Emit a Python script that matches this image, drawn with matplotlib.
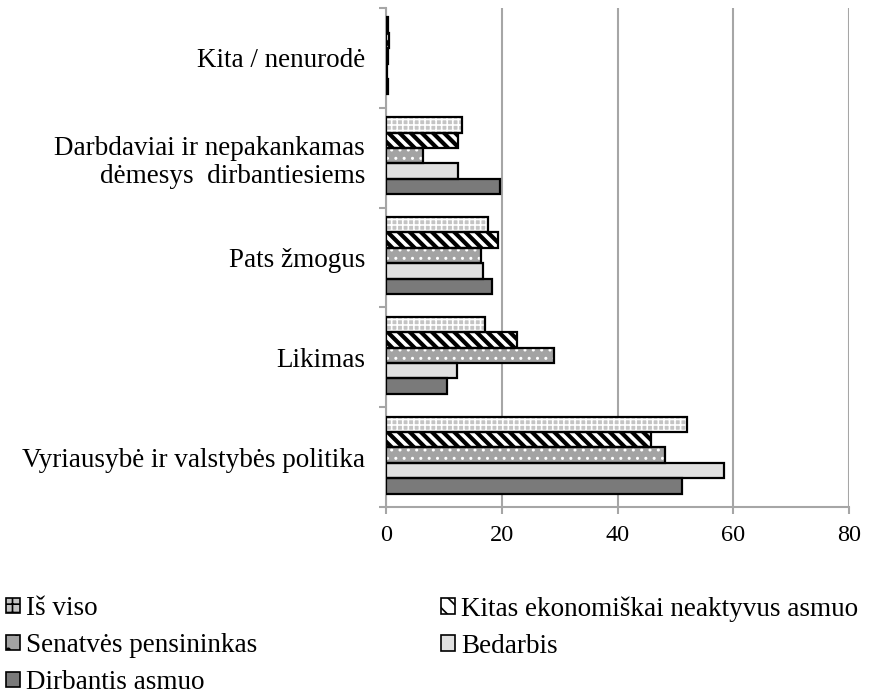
import matplotlib
matplotlib.use("Agg")
import matplotlib.pyplot as plt
import numpy as np
from matplotlib.patches import Patch

plt.rcParams['font.family'] = ['Liberation Serif', 'DejaVu Serif']

categories = ["Vyriausybė ir valstybės politika", "Likimas", "Pats žmogus",
              "Darbdaviai ir nepakankamas\ndėmesys  dirbantiesiems", "Kita / nenurodė"]
# series listed bottom-to-top within each group
dirbantis = [51.2, 10.5, 18.4, 19.7, 0.4]
bedarbis = [58.4, 12.3, 16.8, 12.5, 0.2]
senatves = [48.2, 29.0, 16.4, 6.4, 0.3]
kitas = [45.8, 22.6, 19.4, 12.5, 0.5]
is_viso = [52.0, 17.1, 17.7, 13.2, 0.3]
xticks = [0, 20, 40, 60, 80]

series = [
    ("Dirbantis asmuo", dirbantis, dict(fc='#7a7a7a', hatch=None, hc=None, hlw=1.0)),
    ("Bedarbis", bedarbis, dict(fc='#e0e0e0', hatch=None, hc=None, hlw=1.0)),
    ("Senatvės pensininkas", senatves, dict(fc='#a3a3a3', hatch='..', hc='white', hlw=1.0)),
    ("Kitas ekonomiškai neaktyvus asmuo", kitas, dict(fc='white', hatch='\\\\\\', hc='black', hlw=3.0)),
    ("Iš viso", is_viso, dict(fc='#c4c4c4', hatch='+++', hc='white', hlw=1.2)),
]

fig = plt.figure(figsize=(8.69, 6.99), dpi=100)
ax = fig.add_axes([386/869, 1-507/699, (849-386)/869, (507-8)/699])

y = np.arange(len(categories))
h = 0.154
n = len(series)
for i, (name, vals, st) in enumerate(series):
    off = (i - (n-1)/2) * h + 0.02
    if st['hatch']:
        plt.rcParams['hatch.linewidth'] = st['hlw']
        bars = ax.barh(y + off, vals, height=h, color=st['fc'], edgecolor=st['hc'],
                       hatch=st['hatch'], linewidth=0, zorder=3)
        for b in bars:
            try:
                b.set_hatch_linewidth(st['hlw'])
            except Exception:
                pass
    else:
        ax.barh(y + off, vals, height=h, color=st['fc'], linewidth=0, zorder=3)
    ax.barh(y + off, vals, height=h, fill=False, edgecolor='black', linewidth=1.6, zorder=4)

ax.set_xlim(0, 80)
ax.set_ylim(-0.5, len(categories) - 0.5)
ax.set_xticks(xticks)
ax.set_xticklabels([str(t) for t in xticks], fontsize=17.5)
ax.set_yticks(y)
ax.set_yticklabels(categories, fontsize=19.5, linespacing=1.2)
ax.set_yticks(np.arange(-0.5, len(categories), 1), minor=True)
ax.tick_params(axis='y', which='major', length=0, pad=15)
ax.tick_params(axis='y', which='minor', length=5, color='#a6a6a6', width=1.5)
ax.tick_params(axis='x', length=5, color='#a6a6a6', width=1.5, pad=8)
ax.grid(axis='x', color='#a6a6a6', linewidth=1.5, zorder=0)
for s in ['top', 'right']:
    ax.spines[s].set_visible(False)
for s in ['left', 'bottom']:
    ax.spines[s].set_color('#a6a6a6')
    ax.spines[s].set_linewidth(1.5)

# legend
handles = {}
for name, vals, st in series:
    plt.rcParams['hatch.linewidth'] = min(st['hlw'], 1.5)
    hp = Patch(facecolor=st['fc'], edgecolor='black', linewidth=1.2,
               hatch={'+++': '++', '\\\\\\': '\\\\', '..': '.'}.get(st['hatch'], None))
    handles[name] = hp
col1 = ["Iš viso", "Senatvės pensininkas", "Dirbantis asmuo"]
col2 = ["Kitas ekonomiškai neaktyvus asmuo", "Bedarbis"]
kw = dict(loc='upper left', frameon=False, fontsize=19.5, handlelength=0.5,
          handleheight=0.5, handletextpad=0.25, labelspacing=0.45, borderaxespad=0,
          borderpad=0)
leg1 = fig.legend([handles[o] for o in col1], col1, bbox_to_anchor=(6/869, 1 - 596/699), **kw)
leg2 = fig.legend([handles[o] for o in col2], col2, bbox_to_anchor=(441/869, 1 - 596/699), **kw)

fig.savefig("out.png", dpi=100)
